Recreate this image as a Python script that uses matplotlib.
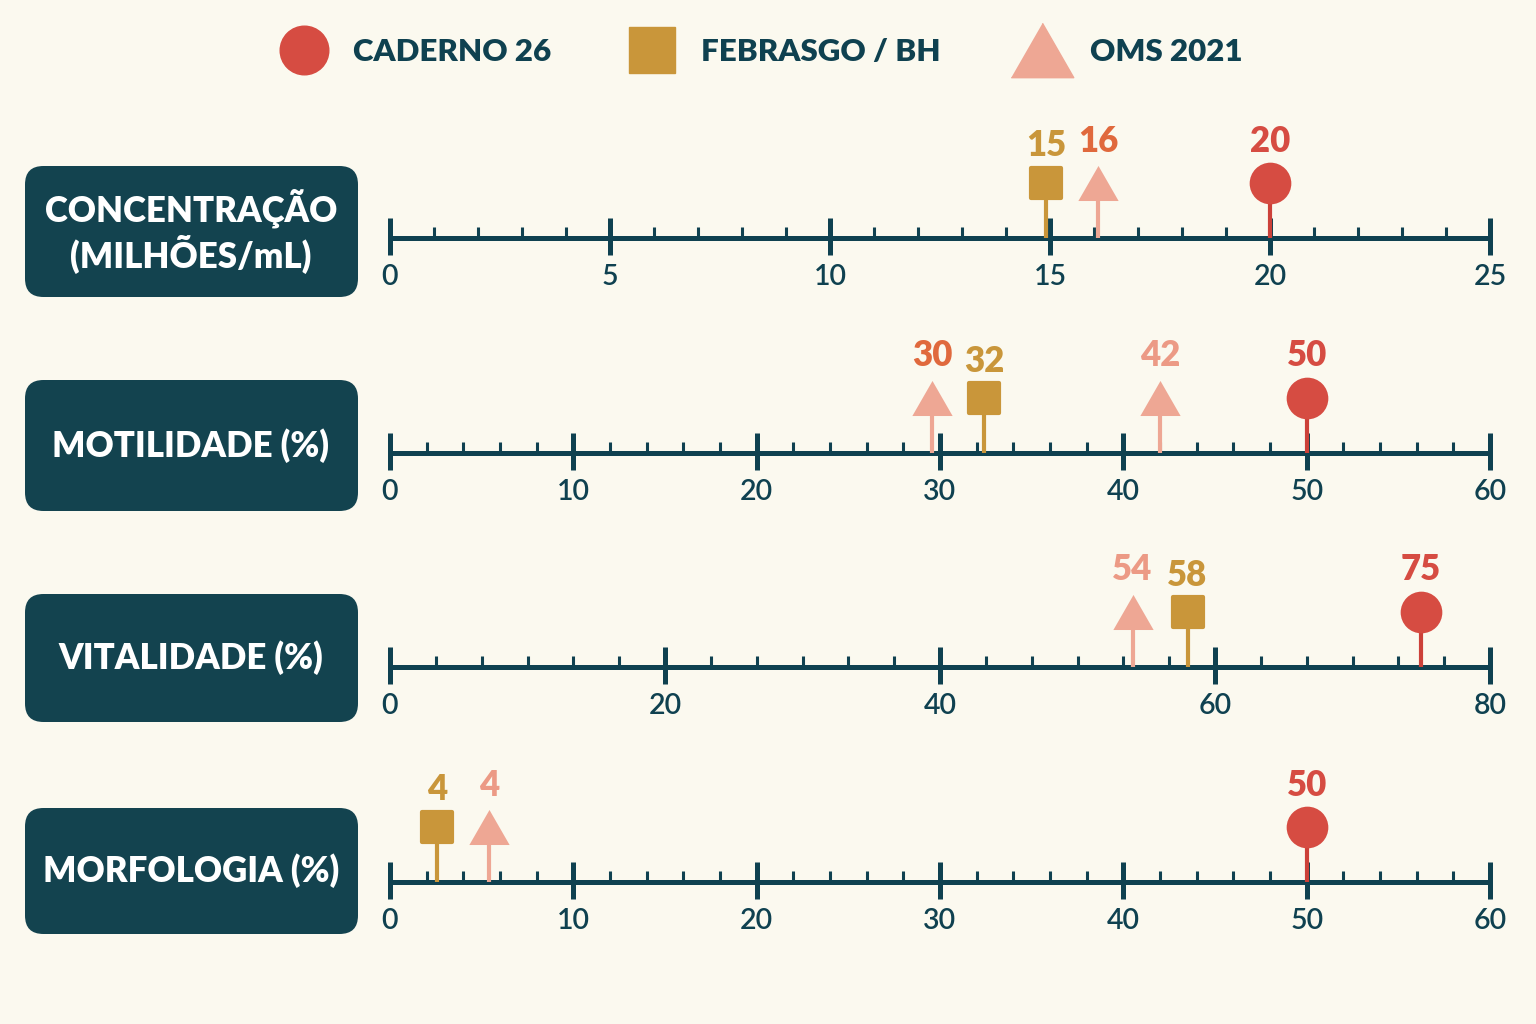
import matplotlib
matplotlib.use("Agg")
import matplotlib.pyplot as plt
import numpy as np
from matplotlib.lines import Line2D
from matplotlib.markers import MarkerStyle
from matplotlib.patches import FancyBboxPatch

# data
row_labels = ["CONCENTRAÇÃO\n(MILHÕES/mL)", "MOTILIDADE (%)", "VITALIDADE (%)", "MORFOLOGIA (%)"]
axis_max = [25, 60, 80, 60]
major_step = [5, 10, 20, 10]
minor_div = [5, 5, 6, 5]          # intervals between majors
caderno26 = [[20], [50], [75], [50]]
febrasgo_bh = [[15], [32], [58], [4]]
oms2021 = [[16], [30, 42], [54], [4]]
series_names = ["CADERNO 26", "FEBRASGO / BH", "OMS 2021"]

# style
W, H = 1536, 1024
BG = "#FBF9EF"
TEAL = "#0F4150"
BOX = "#13434F"
RED = "#D64C42"
GOLD = "#C9963A"
PINK = "#EEA794"
PINK_TXT = "#EC9A85"
ORANGE_TXT = "#E0693D"
FONT = "Lato"

TRI = [(-1, -0.87), (1, -0.87), (0, 0.87)]
series_style = [
    dict(marker="o", ms=30, color=RED, stem="#CC4139", half=21),
    dict(marker="s", ms=21, color=GOLD, stem=GOLD, half=16),
    dict(marker=TRI, ms=29, color=PINK, stem=PINK, half=19),
]
label_colors = [
    [[RED], [RED], [RED], [RED]],
    [[GOLD], [GOLD], [GOLD], [GOLD]],
    [[ORANGE_TXT], [ORANGE_TXT, PINK_TXT], [PINK_TXT], [PINK_TXT]],
]
tie_order = [2, 0, 1]             # febrasgo, oms, caderno when values tie

axis_y = [238, 453, 667, 882]     # pixel row of each number line
box_y = [(166, 297), (380, 511), (594, 722), (808, 934)]
X0, X1 = 390, 1490
MIN_GAP = 52                      # px between neighbouring markers

plt.rcParams["font.family"] = [FONT, "DejaVu Sans"]
fig = plt.figure(figsize=(W / 100, H / 100), dpi=100, facecolor=BG)


def fx(x):
    return x / W


def fy(y):
    return 1 - y / H


all_series = [caderno26, febrasgo_bh, oms2021]

for i, label in enumerate(row_labels):
    # label box
    y0, y1 = box_y[i]
    fig.patches.append(FancyBboxPatch(
        (fx(25), fy(y1)), fx(358) - fx(25), fy(y0) - fy(y1),
        boxstyle="round,pad=0,rounding_size=0.012",
        transform=fig.transFigure, facecolor=BOX, edgecolor="none",
        mutation_aspect=W / H))
    fig.text(fx(191), fy((y0 + y1) / 2), label, ha="center", va="center",
             color="white", fontsize=25, fontweight="heavy", linespacing=1.2)

    # number line axes: y data = pixels above the line
    ay = axis_y[i]
    ax = fig.add_axes([fx(X0), fy(ay + 70), fx(X1) - fx(X0), 200 / H])
    ax.set_xlim(0, axis_max[i])
    ax.set_ylim(-70, 130)
    ax.axis("off")
    ax.patch.set_alpha(0)

    majors = np.arange(0, axis_max[i] + 1e-9, major_step[i])
    minors = np.arange(0, axis_max[i] + 1e-9, major_step[i] / minor_div[i])
    minors = [m for m in minors if np.min(np.abs(majors - m)) > 1e-6]
    ax.hlines(0, 0, axis_max[i], color=TEAL, lw=3.6, zorder=2)
    ax.vlines(majors, -17, 20, color=TEAL, lw=3.6, zorder=2, clip_on=False)
    ax.vlines(minors, 0, 11, color=TEAL, lw=2.2, zorder=2)
    for m in majors:
        ax.text(m, -39, f"{m:g}", ha="center", va="center", color=TEAL,
                fontsize=20.5, fontweight="semibold", clip_on=False)

    # collect markers and spread the ones that would overlap
    items = []
    for s, ser in enumerate(all_series):
        for k, v in enumerate(ser[i]):
            items.append((v, s, k))
    items.sort(key=lambda t: (t[0], tie_order[t[1]]))
    ppu = (X1 - X0) / axis_max[i]
    pos = [v * ppu for v, _, _ in items]
    groups, cur = [], [0]
    for j in range(1, len(items)):
        if pos[j] - pos[j - 1] < MIN_GAP:
            cur.append(j)
        else:
            groups.append(cur)
            cur = [j]
    groups.append(cur)
    for g in groups:
        if len(g) > 1:
            c = np.mean([pos[j] for j in g])
            for n, j in enumerate(g):
                pos[j] = c + (n - (len(g) - 1) / 2) * MIN_GAP

    for (v, s, k), p in zip(items, pos):
        st = series_style[s]
        x = p / ppu
        ax.vlines(x, 0, 55 - st["half"] + 4, color=st["stem"], lw=3, zorder=3)
        ax.plot(x, 55, marker=MarkerStyle(st["marker"], joinstyle="round"),
                ms=st["ms"], color=st["color"], mec=st["color"],
                mew=3 if s == 1 else 0, zorder=4, clip_on=False)
        ly = 92 if s == 1 else 97
        ax.text(x, ly, f"{v}", ha="center", va="center", fontsize=25,
                fontweight="heavy", color=label_colors[s][i][k], clip_on=False)

# legend
handles = [
    Line2D([], [], ls="none", marker="o", ms=35, color=RED),
    Line2D([], [], ls="none", marker="s", ms=33, color=GOLD),
    Line2D([], [], ls="none", marker=TRI, ms=45, color=PINK),
]
leg = fig.legend(handles, series_names, loc="center", bbox_to_anchor=(0.4935, fy(52)),
                 ncol=3, frameon=False, handlelength=2.0, handletextpad=0.55,
                 columnspacing=2.25, prop=dict(family=FONT, weight="heavy", size=22.5))
for t in leg.get_texts():
    t.set_color(TEAL)

fig.savefig("out.png", dpi=100, facecolor=BG)
